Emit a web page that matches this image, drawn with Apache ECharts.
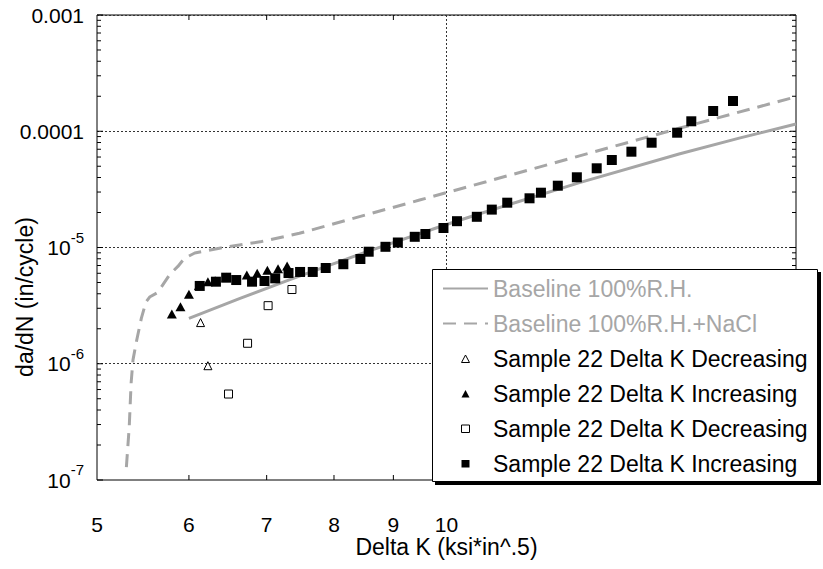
<!DOCTYPE html>
<html>
<head>
<meta charset="utf-8">
<script src="https://cdn.jsdelivr.net/npm/echarts@6/dist/echarts.min.js"></script>
<style>
  html, body { margin: 0; padding: 0; background: #fff; }
  #chart { width: 823px; height: 569px; }
</style>
</head>
<body>
<div id="chart"></div>
<script>
// Crack growth rate da/dN (in/cycle) versus Delta K (ksi*in^.5)

// Baseline fit, 100% relative humidity
const baselineK    = [6.00, 6.64, 7.33, 8.53, 9.94, 10.68, 13.02, 15.86, 17.87, 20.0];
const baselineRate = [2.46e-6, 3.65e-6, 5.30e-6, 9.17e-6, 1.546e-5, 1.953e-5, 3.616e-5, 6.367e-5, 8.73e-5, 1.155e-4];

// Baseline fit, 100% relative humidity + NaCl
const naclK    = [5.30, 5.33, 5.35, 5.37, 5.41, 5.46, 5.51, 5.55, 5.64, 5.78, 5.87, 5.95, 6.00, 6.07, 6.39, 6.93, 7.47, 9.48, 10.82, 15.86, 20.0];
const naclRate = [1.29e-7, 2.86e-7, 6.83e-7, 1.08e-6, 1.60e-6, 2.47e-6, 3.40e-6, 3.75e-6, 4.10e-6, 5.92e-6, 6.87e-6, 8.12e-6, 8.45e-6, 8.97e-6, 9.90e-6, 1.126e-5, 1.325e-5, 2.56e-5, 3.68e-5, 1.06e-4, 1.98e-4];

// Sample 22, triangles
const triDecK    = [6.14, 6.23];
const triDecRate = [2.26e-6, 9.62e-7];
const triIncK    = [5.80, 5.90, 6.00, 6.12, 6.23, 6.32, 6.46, 6.73, 6.87, 7.01, 7.16, 7.29];
const triIncRate = [2.68e-6, 3.10e-6, 3.96e-6, 4.70e-6, 5.08e-6, 5.18e-6, 5.54e-6, 5.80e-6, 6.00e-6, 6.37e-6, 6.57e-6, 6.93e-6];

// Sample 22, squares
const sqDecK    = [6.49, 6.74, 7.02, 7.36];
const sqDecRate = [5.49e-7, 1.50e-6, 3.16e-6, 4.35e-6];
const sqIncK    = [6.13, 6.33, 6.46, 6.59, 6.80, 6.97, 7.12, 7.31, 7.48, 7.67, 7.87, 8.15, 8.43, 8.57, 8.86, 9.08, 9.39, 9.59, 9.94, 10.21,
                   10.62, 10.94, 11.28, 11.79, 12.06, 12.47, 12.95, 13.47, 13.88, 14.43, 15.02, 15.80, 16.25, 16.97, 17.65];
const sqIncRate = [4.67e-6, 5.08e-6, 5.50e-6, 5.25e-6, 5.08e-6, 5.15e-6, 5.43e-6, 6.03e-6, 6.16e-6, 6.16e-6, 6.66e-6, 7.18e-6, 7.96e-6, 9.20e-6, 1.014e-5, 1.104e-5, 1.236e-5, 1.306e-5, 1.472e-5, 1.684e-5,
                   1.837e-5, 2.118e-5, 2.429e-5, 2.650e-5, 2.961e-5, 3.401e-5, 4.018e-5, 4.801e-5, 5.657e-5, 6.670e-5, 7.971e-5, 9.716e-5, 1.218e-4, 1.494e-4, 1.820e-4];

// Legend entries (series keys and their displayed labels)
const seriesKeys   = ['baseRH', 'baseNaCl', 'triDec', 'triInc', 'sqDec', 'sqInc'];
const legendLabels = ['Baseline 100%R.H.', 'Baseline 100%R.H.+NaCl',
                      'Sample 22 Delta K Decreasing', 'Sample 22 Delta K Increasing',
                      'Sample 22 Delta K Decreasing', 'Sample 22 Delta K Increasing'];

// Axis ticks and labels
const xTickValues = [5, 6, 7, 8, 9, 10];
const xTickLabels = ['5', '6', '7', '8', '9', '10'];
const xTickMarks  = [6, 7, 8, 9];
const yDecades    = [1e-7, 1e-6, 1e-5, 1e-4, 1e-3];
const yTickLabels = ['{b|10}{s|-7}', '{b|10}{s|-6}', '{b|10}{s|-5}', '{b|0.0001}', '{b|0.001}'];
const yMinorSteps = [2, 3, 4, 5, 6, 7, 8, 9];

const xTitle = 'Delta K (ksi*in^.5)';
const yTitle = 'da/dN (in/cycle)';

const X_MIN = 5, X_MAX = 20, Y_MIN = 1e-7, Y_MAX = 1e-3;
const FONT = '"Liberation Sans", Arial, Helvetica, sans-serif';
const GRAY = '#a6a6a6';
const GRID_LINE = { color: '#333', type: [2, 2], width: 1 };

// legend frame: box with a hard drop shadow
const LEGEND_BOX = { x: 432, y: 269, width: 386, height: 213 };
const SHADOW = 3;

// legend marker icons: a small glyph centred in a 45 x 8 icon cell
const ICON_TRIANGLE = 'path://M0,0M45,8M18.5,8L22.5,0.5L26.5,8Z';
const ICON_SQUARE   = 'path://M0,0M45,8M18.5,0.5L26.5,0.5L26.5,8L18.5,8Z';

const zip = (xs, ys) => xs.map((x, i) => [x, ys[i]]);

// tick positions on the y axis: decades plus the 2..9 steps inside each decade
const yTickMarks = [];
yDecades.forEach((d, i) => {
  yTickMarks.push([d, 1]);
  if (i < yDecades.length - 1) yMinorSteps.forEach(m => yTickMarks.push([m * d, 0]));
});

function yLabel(value) {
  const e = Math.log10(value);
  let best = 0;
  yDecades.forEach((d, i) => {
    if (Math.abs(Math.log10(d) - e) < Math.abs(Math.log10(yDecades[best]) - e)) best = i;
  });
  return yTickLabels[best];
}

const chart = echarts.init(document.getElementById('chart'), null, { renderer: 'svg', width: 823, height: 569 });

const option = {
  animation: false,
  backgroundColor: '#fff',
  textStyle: { fontFamily: FONT },
  grid: {
    left: 97, right: 27, top: 15, bottom: 89,
    show: true, borderColor: '#000', borderWidth: 1, backgroundColor: 'transparent',
    containLabel: false, outerBoundsMode: 'none'
  },
  xAxis: {
    type: 'log', logBase: 10, min: X_MIN, max: X_MAX,
    name: xTitle, nameLocation: 'middle', nameGap: 57, nameMoveOverlap: false,
    nameTextStyle: { fontSize: 23, lineHeight: 20, color: '#000', fontFamily: FONT },
    axisLine: { show: false }, axisTick: { show: false }, axisLabel: { show: false },
    splitLine: { show: true, showMinLine: false, showMaxLine: false, lineStyle: GRID_LINE }
  },
  yAxis: {
    type: 'log', logBase: 10, min: Y_MIN, max: Y_MAX,
    name: yTitle, nameLocation: 'middle', nameGap: 61, nameMoveOverlap: false,
    nameTextStyle: { fontSize: 23, lineHeight: 23, color: '#000', fontFamily: FONT, padding: [0, 99, 0, 0] },
    axisLine: { show: false }, axisTick: { show: false },
    axisLabel: {
      margin: 13, color: '#000', formatter: yLabel,
      rich: {
        b: { fontSize: 21, fontFamily: FONT, color: '#000' },
        s: { fontSize: 15, fontFamily: FONT, color: '#000', padding: [0, 0, 21, 0] }
      }
    },
    splitLine: { show: true, showMinLine: false, showMaxLine: false, lineStyle: GRID_LINE }
  },
  graphic: [
    {
      type: 'rect', z: 20, silent: true,
      shape: { x: LEGEND_BOX.x + SHADOW, y: LEGEND_BOX.y + SHADOW, width: LEGEND_BOX.width, height: LEGEND_BOX.height },
      style: { fill: '#000' }
    },
    {
      type: 'rect', z: 21, silent: true,
      shape: { x: LEGEND_BOX.x + 0.5, y: LEGEND_BOX.y + 0.5, width: LEGEND_BOX.width - 1, height: LEGEND_BOX.height - 1 },
      style: { fill: '#fff', stroke: '#000', lineWidth: 1 }
    }
  ],
  legend: {
    orient: 'vertical', left: LEGEND_BOX.x, top: LEGEND_BOX.y, z: 30,
    padding: [8, 10, 7, 10], itemGap: 12, itemWidth: 45, itemHeight: 8,
    selectedMode: false,
    textStyle: { fontSize: 23, lineHeight: 23, fontFamily: FONT, color: '#000' },
    formatter: name => legendLabels[seriesKeys.indexOf(name)],
    data: [
      { name: seriesKeys[0], textStyle: { color: GRAY }, itemStyle: { opacity: 0 } },
      { name: seriesKeys[1], textStyle: { color: GRAY }, itemStyle: { opacity: 0 } },
      { name: seriesKeys[2], icon: ICON_TRIANGLE, itemStyle: { color: '#fff', borderColor: '#000', borderWidth: 1, opacity: 1 } },
      { name: seriesKeys[3], icon: ICON_TRIANGLE, itemStyle: { color: '#000', borderWidth: 0, opacity: 1 } },
      { name: seriesKeys[4], icon: ICON_SQUARE, itemStyle: { color: '#fff', borderColor: '#000', borderWidth: 1, opacity: 1 } },
      { name: seriesKeys[5], icon: ICON_SQUARE, itemStyle: { color: '#000', borderWidth: 0, opacity: 1 } }
    ]
  },
  series: [
    {
      name: seriesKeys[0], type: 'line', data: zip(baselineK, baselineRate),
      symbol: 'none', silent: true, z: 2,
      lineStyle: { color: GRAY, width: 3 }, itemStyle: { color: GRAY }
    },
    {
      name: seriesKeys[1], type: 'line', data: zip(naclK, naclRate),
      symbol: 'none', silent: true, z: 2,
      lineStyle: { color: GRAY, width: 3, type: [13, 8] }, itemStyle: { color: GRAY }
    },
    {
      name: seriesKeys[2], type: 'scatter', data: zip(triDecK, triDecRate),
      symbol: 'triangle', symbolSize: [8, 8], silent: true, z: 3,
      itemStyle: { color: '#fff', borderColor: '#000', borderWidth: 1, opacity: 1 }
    },
    {
      name: seriesKeys[3], type: 'scatter', data: zip(triIncK, triIncRate),
      symbol: 'triangle', symbolSize: [10, 9], silent: true, z: 3,
      itemStyle: { color: '#000', opacity: 1 }
    },
    {
      name: seriesKeys[4], type: 'scatter', data: zip(sqDecK, sqDecRate),
      symbol: 'rect', symbolSize: 8, silent: true, z: 3,
      itemStyle: { color: '#fff', borderColor: '#000', borderWidth: 1, opacity: 1 }
    },
    {
      name: seriesKeys[5], type: 'scatter', data: zip(sqIncK, sqIncRate),
      symbol: 'rect', symbolSize: 10, silent: true, z: 4,
      itemStyle: { color: '#000', opacity: 1 }
    },
    // x tick labels below the axis
    {
      type: 'custom', silent: true, clip: false, z: 6,
      data: xTickValues.map(v => [v, Y_MIN]),
      renderItem(params, api) {
        const px = api.coord([api.value(0), Y_MIN])[0];
        const cs = params.coordSys;
        return {
          type: 'text', x: px, y: cs.y + cs.height + 44.5,
          style: {
            text: xTickLabels[params.dataIndex], fill: '#000',
            fontSize: 21, lineHeight: 18, fontFamily: FONT, align: 'center', verticalAlign: 'middle'
          }
        };
      }
    },
    // x tick marks, pointing inward at the bottom and top edges
    {
      type: 'custom', silent: true, clip: false, z: 6,
      data: xTickMarks.map(v => [v, Y_MIN]),
      renderItem(params, api) {
        const px = api.coord([api.value(0), Y_MIN])[0];
        const cs = params.coordSys;
        const L = 5;
        const st = { stroke: '#000', lineWidth: 1 };
        return {
          type: 'group', children: [
            { type: 'line', shape: { x1: px, y1: cs.y + cs.height, x2: px, y2: cs.y + cs.height - L }, style: st },
            { type: 'line', shape: { x1: px, y1: cs.y, x2: px, y2: cs.y + L }, style: st }
          ]
        };
      }
    },
    // y tick marks, pointing inward at the left and right edges
    {
      type: 'custom', silent: true, clip: false, z: 6,
      data: yTickMarks.map(t => [X_MIN, t[0], t[1]]),
      renderItem(params, api) {
        const py = api.coord([X_MIN, api.value(1)])[1];
        const cs = params.coordSys;
        const L = api.value(2) ? 6 : 4;
        const st = { stroke: '#000', lineWidth: 1 };
        return {
          type: 'group', children: [
            { type: 'line', shape: { x1: cs.x, y1: py, x2: cs.x + L, y2: py }, style: st },
            { type: 'line', shape: { x1: cs.x + cs.width, y1: py, x2: cs.x + cs.width - L, y2: py }, style: st }
          ]
        };
      }
    }
  ]
};

chart.setOption(option);
</script>
</body>
</html>
